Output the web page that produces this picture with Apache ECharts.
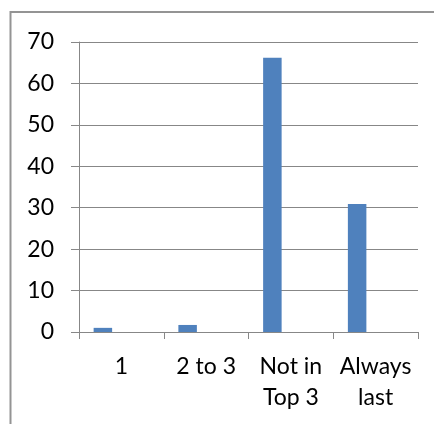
<!DOCTYPE html>
<html>
<head>
<meta charset="utf-8">
<script src="https://cdn.jsdelivr.net/npm/echarts@6/dist/echarts.min.js"></script>
<style>
  html, body { margin: 0; padding: 0; background: #ffffff; }
  #chart { width: 434px; height: 424px; }
</style>
</head>
<body>
<div id="chart"></div>
<script>
// Categories along the x axis
const categories = ['1', '2 to 3', 'Not in\nTop 3', 'Always\nlast'];
// Values of the plotted series
const responses = [1.0, 1.7, 66.2, 30.9];
// Two further series in the same clusters, with no values
const seriesB = [];
const seriesC = [];
// Value-axis ticks
const yTicks = [0, 10, 20, 30, 40, 50, 60, 70];

const gray = '#878787';
const textStyle = { fontFamily: 'Lato', fontSize: 23, color: '#000000' };

const chart = echarts.init(document.getElementById('chart'), null, { renderer: 'canvas' });

chart.setOption({
  animation: false,
  backgroundColor: '#ffffff',
  graphic: [{
    type: 'rect',
    shape: { x: 10.5, y: 12, width: 700, height: 700 },
    style: { fill: 'none', stroke: '#949494', lineWidth: 2 },
    silent: true
  }],
  grid: { left: 79, right: 16, top: 42, bottom: 92 },
  xAxis: {
    type: 'category',
    data: categories,
    boundaryGap: true,
    axisLine: { show: true, lineStyle: { color: gray, width: 1 } },
    axisTick: { show: true, length: 7, lineStyle: { color: gray, width: 1 } },
    axisLabel: Object.assign({ margin: 19, lineHeight: 31, interval: 0 }, textStyle),
    splitLine: { show: false }
  },
  yAxis: {
    type: 'value',
    min: yTicks[0],
    max: yTicks[yTicks.length - 1],
    interval: yTicks[1] - yTicks[0],
    axisLine: { show: true, lineStyle: { color: gray, width: 1 } },
    axisTick: { show: true, length: 8, lineStyle: { color: gray, width: 1 } },
    axisLabel: Object.assign({ margin: 25 }, textStyle),
    splitLine: { show: true, lineStyle: { color: gray, width: 1 } }
  },
  series: [
    { type: 'bar', data: responses, barWidth: 18.5, barGap: '0%', itemStyle: { color: '#4F81BD' } },
    { type: 'bar', data: seriesB, barWidth: 18.5, barGap: '0%', itemStyle: { color: '#C0504D' } },
    { type: 'bar', data: seriesC, barWidth: 18.5, barGap: '0%', itemStyle: { color: '#9BBB59' } }
  ]
});
</script>
</body>
</html>
